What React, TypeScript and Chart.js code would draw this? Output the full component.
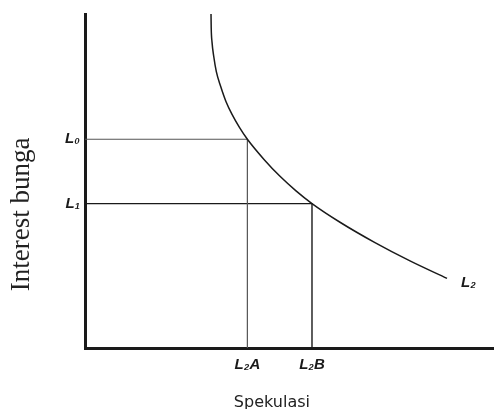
import React, { useEffect, useRef } from "react";
import { Chart, registerables } from "chart.js";

Chart.register(...registerables);

// Liquidity preference (speculative demand) curve L2
const curveX = [3.081, 3.086, 3.105, 3.149, 3.211, 3.318, 3.446, 3.595, 3.776, 3.97, 4.377, 4.768, 5.159, 5.55, 6.235, 7.09, 7.946, 8.851];
const curveY = [10.0, 9.583, 9.167, 8.72, 8.274, 7.827, 7.381, 6.994, 6.607, 6.25, 5.646, 5.14, 4.705, 4.324, 3.765, 3.155, 2.607, 2.083];

// interest levels and the matching speculative demand
const yTickValues = [6.25, 4.324];
const yTickLabels = ["L\u2080", "L\u2081"];
const xTickValues = [3.97, 5.55];
const xTickLabels = ["L\u2082A", "L\u2082B"];
const curveLabel = "L\u2082";
const xTitle = "Spekulasi";
const yTitle = "Interest bunga";

const titlesPlugin = {
  id: "diagramTitles",
  afterDraw(chart: any) {
    const ctx = chart.ctx;
    const area = chart.chartArea;
    ctx.save();
    const meta = chart.getDatasetMeta(0);
    const last = meta.data[meta.data.length - 1];
    ctx.fillStyle = "#1a1a1a";
    ctx.textBaseline = "middle";
    ctx.textAlign = "left";
    ctx.font = "bold italic 15px 'Liberation Sans', sans-serif";
    ctx.fillText(curveLabel, last.x + 14, last.y + 4);
    ctx.textAlign = "center";
    ctx.font = "16px 'DejaVu Sans', sans-serif";
    ctx.fillStyle = "#222";
    ctx.fillText(xTitle, area.left + (area.right - area.left) * 0.457, area.bottom + 55);
    ctx.translate(22, area.top + (area.bottom - area.top) * 0.6);
    ctx.rotate(-Math.PI / 2);
    ctx.font = "27px 'Liberation Serif', serif";
    ctx.fillText(yTitle, 0, 0);
    ctx.restore();
  },
};

export default function App() {
  const ref = useRef<HTMLCanvasElement>(null);
  useEffect(() => {
    if (!ref.current) return;
    const tickFont = { family: "'Liberation Sans', sans-serif", size: 15, weight: "bold", style: "italic" };
    const chart = new Chart(ref.current, {
      type: "line",
      data: {
        datasets: [
          {
            data: curveX.map((x, i) => ({ x, y: curveY[i] })),
            borderColor: "#1a1a1a",
            borderWidth: 1.5,
            pointRadius: 0,
            cubicInterpolationMode: "monotone",
            fill: false,
          },
          {
            data: [
              { x: 0, y: yTickValues[0] },
              { x: xTickValues[0], y: yTickValues[0] },
              { x: xTickValues[0], y: 0 },
            ],
            borderColor: "#555",
            borderWidth: 1.2,
            pointRadius: 0,
            tension: 0,
            fill: false,
          },
          {
            data: [
              { x: 0, y: yTickValues[1] },
              { x: xTickValues[1], y: yTickValues[1] },
              { x: xTickValues[1], y: 0 },
            ],
            borderColor: "#1a1a1a",
            borderWidth: 1.4,
            pointRadius: 0,
            tension: 0,
            fill: false,
          },
        ],
      } as any,
      options: {
        animation: false,
        responsive: true,
        maintainAspectRatio: false,
        layout: { padding: { top: 12, left: 0, right: 0, bottom: 0 } },
        plugins: { legend: { display: false }, tooltip: { enabled: false } },
        scales: {
          x: {
            type: "linear",
            min: 0,
            max: 10,
            grid: { color: "transparent", drawTicks: false },
            border: { display: true, color: "#1a1a1a", width: 3 },
            afterBuildTicks: (scale: any) => {
              scale.ticks = xTickValues.map((v) => ({ value: v }));
            },
            afterFit: (scale: any) => {
              scale.height = 61;
            },
            ticks: {
              autoSkip: false,
              maxRotation: 0,
              padding: 8,
              color: "#1a1a1a",
              font: tickFont,
              callback: (_v: any, i: number) => xTickLabels[i],
            },
          },
          y: {
            type: "linear",
            min: 0,
            max: 10,
            grid: { color: "transparent", drawTicks: false },
            border: { display: true, color: "#1a1a1a", width: 3 },
            afterBuildTicks: (scale: any) => {
              scale.ticks = yTickValues.map((v) => ({ value: v }));
            },
            afterFit: (scale: any) => {
              scale.width = 85;
            },
            ticks: {
              autoSkip: false,
              padding: 5,
              color: "#1a1a1a",
              font: tickFont,
              callback: (_v: any, i: number) => yTickLabels[i],
            },
          },
        },
      } as any,
      plugins: [titlesPlugin],
    });
    return () => chart.destroy();
  }, []);
  return (
    <div style={{ position: "fixed", left: 0, top: 0, width: 494, height: 409, background: "#fff" }}>
      <canvas ref={ref} />
    </div>
  );
}
